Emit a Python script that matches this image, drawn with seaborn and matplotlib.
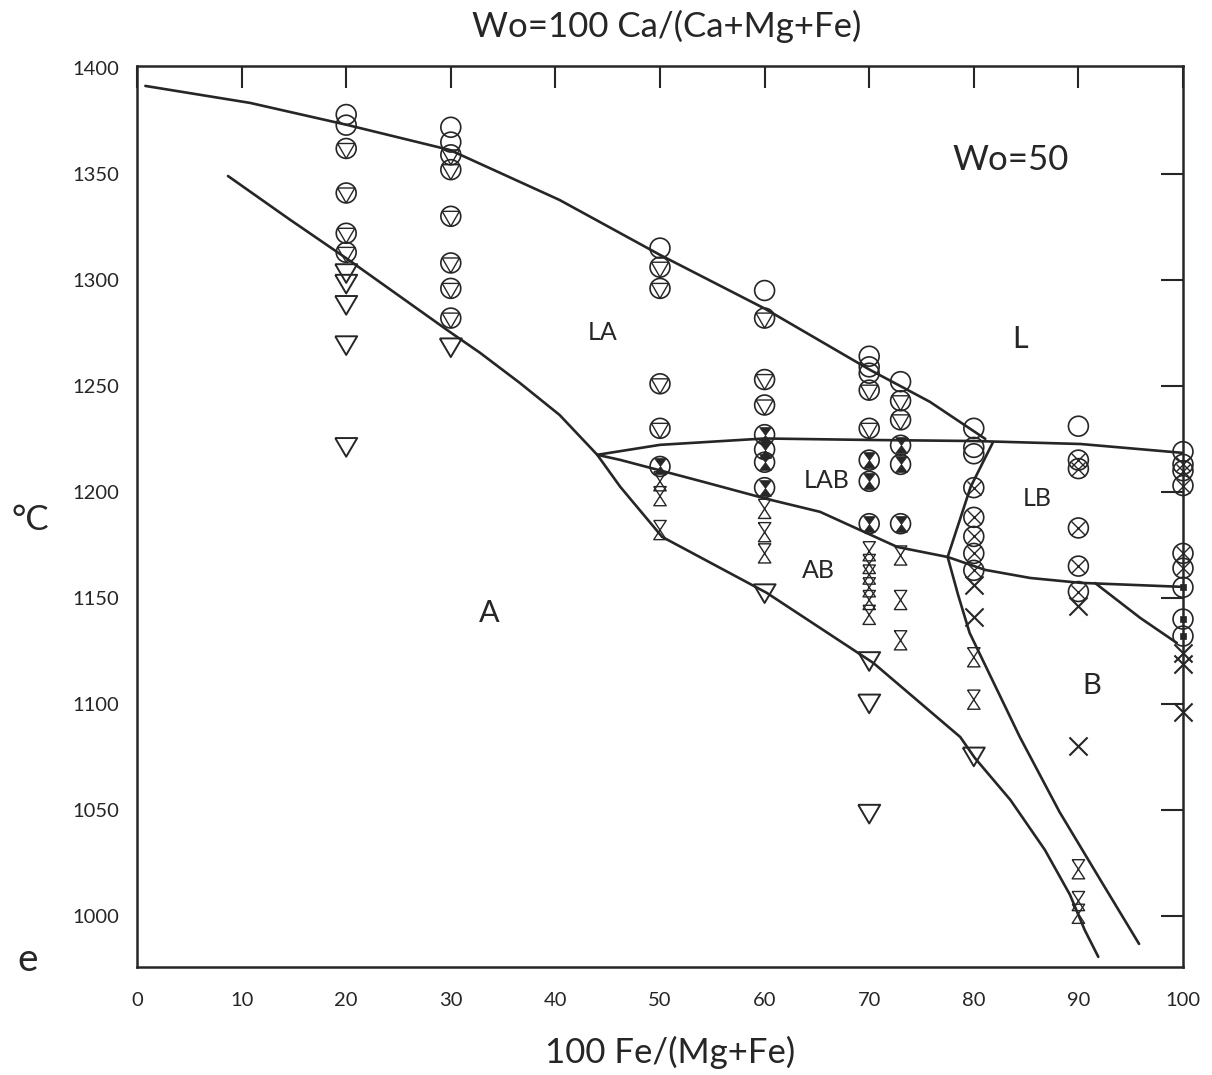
"""
Phase diagram at Wo=50: run products vs 100 Fe/(Mg+Fe) and temperature.
Markers are drawn with seaborn scatterplot, boundaries with seaborn lineplot.
"""
import matplotlib
matplotlib.use("Agg")
import matplotlib.pyplot as plt
import seaborn as sns

INK = "#262626"

# run products, grouped by phase assemblage (x = 100 Fe/(Mg+Fe), y = degC)
liquid_x = [20, 20, 30, 30, 50, 60, 70, 70, 70, 73, 80, 80, 80, 90, 100]
liquid_y = [1378, 1373, 1372, 1365, 1315, 1295, 1264, 1259, 1256, 1252, 1230, 1221, 1218, 1231, 1219]

la_x = [20, 20, 20, 20, 30, 30, 30, 30, 30, 30, 50, 50, 50, 50, 60, 60, 60, 70, 70, 73, 73]
la_y = [1362, 1341, 1322, 1313, 1359, 1352, 1330, 1308, 1296, 1282,
        1306, 1296, 1251, 1230, 1282, 1253, 1241, 1248, 1230, 1243, 1234]

a_x = [20, 20, 20, 20, 20, 30, 60, 70, 70, 70, 80]
a_y = [1303, 1298, 1288, 1269, 1221, 1268, 1152, 1120, 1100, 1048, 1075]

lab_x = [50, 60, 60, 60, 60, 70, 70, 70, 73, 73, 73]
lab_y = [1212, 1227, 1220, 1214, 1202, 1215, 1205, 1185, 1222, 1213, 1185]

ab_x = [50, 50, 50, 60, 60, 60, 70, 70, 70, 70, 70, 70, 73, 73, 73, 80, 80, 90, 90, 90]
ab_y = [1205, 1198, 1182, 1192, 1181, 1171, 1172, 1166, 1161, 1155, 1149, 1142,
        1170, 1149, 1130, 1122, 1102, 1022, 1007, 1001]

lb_x = [80, 80, 80, 80, 80, 90, 90, 90, 90, 90, 100, 100, 100, 100, 100]
lb_y = [1202, 1188, 1179, 1171, 1163, 1215, 1211, 1183, 1165, 1153, 1213, 1210, 1203, 1171, 1164]

b_x = [80, 80, 90, 90, 100, 100, 100]
b_y = [1156, 1141, 1146, 1080, 1124, 1119, 1096]

lbq_x = [100, 100, 100]
lbq_y = [1155, 1140, 1132]

# phase boundaries
liquidus_x = [0.8, 10.8, 20.1, 29.9, 40.4, 50.0, 60.0, 70.1, 75.8, 81.1]
liquidus_y = [1391.5, 1383.5, 1373.1, 1361.3, 1337.7, 1311.8, 1286.5, 1257.5, 1242.5, 1225.0]

solidus_x = [8.7, 14.6, 20.1, 29.9, 32.8, 36.6, 40.4, 44.0]
solidus_y = [1349.0, 1328.5, 1309.9, 1275.5, 1265.6, 1251.4, 1236.3, 1217.5]

lab_top_x = [44.0, 50.0, 60.0, 70.1, 80.1, 90.2, 100.0]
lab_top_y = [1217.5, 1222.2, 1225.2, 1224.5, 1224.0, 1222.6, 1218.4]

lab_low_x = [44.0, 46.2, 53.8, 60.2, 65.3, 72.7, 77.5]
lab_low_y = [1217.5, 1215.1, 1205.2, 1196.7, 1190.6, 1174.0, 1169.3]

a_ab_x = [44.0, 46.2, 50.2, 60.2, 70.4, 78.7, 80.1, 83.5, 86.8, 89.2, 90.6, 91.9]
a_ab_y = [1217.5, 1202.4, 1178.8, 1152.4, 1119.3, 1084.4, 1074.5, 1054.7, 1031.1, 1009.9, 993.4, 980.7]

lb_left_x = [81.8, 79.7, 77.5]
lb_left_y = [1223.1, 1202.4, 1169.3]

lb_low_x = [77.5, 81.1, 85.4, 90.2, 100.0]
lb_low_y = [1169.3, 1163.2, 1159.4, 1157.1, 1155.2]

ab_b_x = [77.5, 78.5, 79.6, 84.4, 88.2, 92.1, 95.8]
ab_b_y = [1169.3, 1151.4, 1133.5, 1084.4, 1049.0, 1017.0, 986.8]

b_right_x = [91.6, 95.9, 99.4]
b_right_y = [1157.0, 1140.6, 1128.8]

field_labels = ["LA", "L", "LAB", "LB", "AB", "A", "B", "Wo=50"]
field_x = [44.5, 84.4, 65.9, 86.1, 65.1, 33.7, 91.3, 83.5]
field_y = [1275, 1272, 1205.5, 1197, 1163, 1143, 1108.5, 1356.5]
field_size = [18, 22, 18, 18, 18, 22, 21, 25]

# marker shapes
HOURGLASS = [(-0.65, 1), (0.65, 1), (-0.65, -1), (0.65, -1), (-0.65, 1)]
TRI_IN = [(0, -1), (0.866, 0.5), (-0.866, 0.5), (0, -1)]
TRI_OPEN = [(-1, 0.85), (1, 0.85), (0, -0.85), (-1, 0.85)]
BOWTIE = [(-0.6, 0.8), (0.6, 0.8), (-0.6, -0.8), (0.6, -0.8), (-0.6, 0.8)]

CIRCLE_S = 205


def open_marks(ax, x, y, marker, s, lw=1.2):
    sns.scatterplot(x=x, y=y, marker=marker, s=s, facecolor="none",
                    edgecolor=INK, linewidth=lw, ax=ax, zorder=4, clip_on=False)


def filled_marks(ax, x, y, marker, s):
    sns.scatterplot(x=x, y=y, marker=marker, s=s, color=INK,
                    edgecolor=INK, linewidth=0.5, ax=ax, zorder=5, clip_on=False)


def boundary(ax, x, y):
    sns.lineplot(x=x, y=y, sort=False, estimator=None, color=INK,
                 linewidth=1.9, ax=ax, zorder=3)


sns.set_theme(style="white")
plt.rcParams["font.family"] = ["Lato", "DejaVu Sans"]

fig = plt.figure(figsize=(12.12, 10.75), dpi=100)
ax = fig.add_axes([137 / 1212, 1 - 967 / 1075, 1046 / 1212, 901 / 1075])

for bx, by in [(liquidus_x, liquidus_y), (solidus_x, solidus_y),
               (lab_top_x, lab_top_y), (lab_low_x, lab_low_y),
               (a_ab_x, a_ab_y), (lb_left_x, lb_left_y),
               (lb_low_x, lb_low_y), (ab_b_x, ab_b_y),
               (b_right_x, b_right_y)]:
    boundary(ax, bx, by)

# liquid only
open_marks(ax, liquid_x, liquid_y, "o", CIRCLE_S)
# liquid + A
open_marks(ax, la_x, la_y, "o", CIRCLE_S)
open_marks(ax, la_x, la_y, TRI_IN, CIRCLE_S, lw=1.0)
# A only
open_marks(ax, a_x, a_y, TRI_OPEN, 250, lw=1.4)
# liquid + A + B
open_marks(ax, lab_x, lab_y, "o", CIRCLE_S)
filled_marks(ax, lab_x, lab_y, BOWTIE, CIRCLE_S * 0.64)
# A + B
open_marks(ax, ab_x, ab_y, HOURGLASS, 190, lw=1.0)
# liquid + B
open_marks(ax, lb_x, lb_y, "o", CIRCLE_S)
sns.scatterplot(x=lb_x, y=lb_y, marker="x", s=CIRCLE_S * 0.5, color=INK,
                linewidth=1.0, ax=ax, zorder=5, clip_on=False)
# B only
sns.scatterplot(x=b_x, y=b_y, marker="x", s=170, color=INK,
                linewidth=1.5, ax=ax, zorder=5, clip_on=False)
# liquid + B (quenched)
open_marks(ax, lbq_x, lbq_y, "o", CIRCLE_S)
filled_marks(ax, lbq_x, lbq_y, "s", 22)

for lab, fx, fy, fs in zip(field_labels, field_x, field_y, field_size):
    ax.text(fx, fy, lab, ha="center", va="center", color=INK, fontsize=fs)

ax.set_xlim(0, 100)
ax.set_ylim(975.9, 1400.9)
ax.set_xticks(range(0, 101, 10))
ax.set_yticks(range(1000, 1401, 50))
ax.tick_params(axis="x", direction="in", length=16, width=1.5, top=True,
               labelsize=14.5, pad=18, colors=INK)
ax.tick_params(axis="y", direction="out", length=5, width=1.2,
               labelsize=14.5, pad=8, colors=INK)
right = ax.secondary_yaxis("right")
right.set_yticks(range(1000, 1351, 50))
right.tick_params(direction="in", length=16, width=1.5, labelright=False,
                  colors=INK)
right.spines["right"].set_visible(False)
for sp in ax.spines.values():
    sp.set_color(INK)
    sp.set_linewidth(1.8)
ax.set_xlabel("")
ax.set_ylabel("")

fig.text(667 / 1212, 1 - 26 / 1075, "Wo=100 Ca/(Ca+Mg+Fe)", ha="center",
         va="center", fontsize=25, color=INK)
fig.text(670 / 1212, 1 - 1052 / 1075, "100 Fe/(Mg+Fe)", ha="center",
         va="center", fontsize=25, color=INK)
fig.text(30 / 1212, 1 - 520 / 1075, "°C", ha="center", va="center",
         fontsize=25, color=INK)
fig.text(28 / 1212, 1 - 960 / 1075, "e", ha="center", va="center",
         fontsize=28, color=INK)

fig.savefig("out.png", dpi=100, facecolor="white")
plt.close(fig)
